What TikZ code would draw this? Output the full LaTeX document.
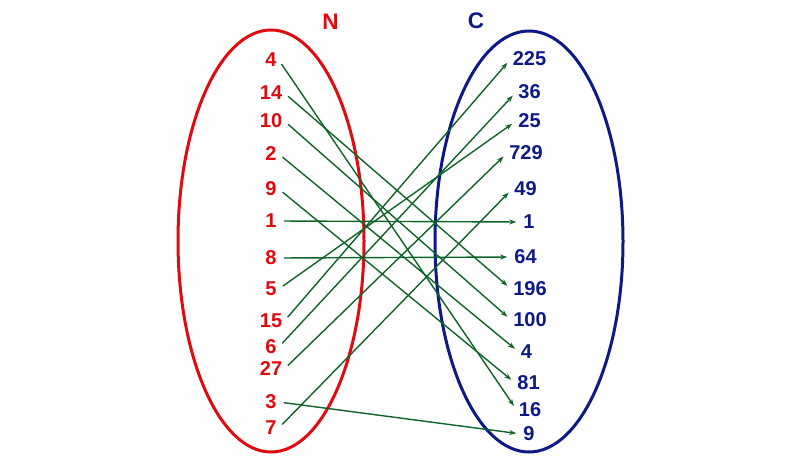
\documentclass[tikz,border=0pt]{standalone}
\usepackage{fontspec}
\setmainfont{Liberation Sans}
\usetikzlibrary{arrows.meta}
\definecolor{nred}{RGB}{225,10,15}
\definecolor{cblue}{RGB}{12,25,135}
\definecolor{lgreen}{RGB}{15,100,40}
\begin{document}
\begin{tikzpicture}[x=1pt,y=-1pt,
  lab/.style={font=\fontsize{20}{20}\selectfont\bfseries, inner sep=2pt},
  nlab/.style={lab, text=nred},
  clab/.style={lab, text=cblue},
  ttl/.style={font=\fontsize{22.5}{22.5}\selectfont\bfseries, inner sep=2pt},
  setn/.style={draw=nred, line width=3pt},
  setc/.style={draw=cblue, line width=3pt},
  map/.style={draw=lgreen, line width=1.4pt, -{Stealth[length=7pt,width=5pt]}, shorten <=5pt, shorten >=5pt}]
\useasboundingbox (0,0) rectangle (800,460);
\fill[white] (0,0) rectangle (800,460);
% sets
\draw[setn] (271,241) ellipse [x radius=93pt, y radius=211pt];
\draw[setc] (529,241.5) ellipse [x radius=94pt, y radius=210.5pt];
\node[ttl, text=nred] (tN) at (330.5,21.5) {N};
\node[ttl, text=cblue] (tC) at (476,21) {C};
% domain
\node[nlab] (n4)  at (271,60)  {4};
\node[nlab] (n14) at (271,93)  {14};
\node[nlab] (n10) at (271,121) {10};
\node[nlab] (n2)  at (271,154) {2};
\node[nlab] (n9)  at (271,189) {9};
\node[nlab] (n1)  at (271,221) {1};
\node[nlab] (n8)  at (271,258) {8};
\node[nlab] (n5)  at (271,289) {5};
\node[nlab] (n15) at (271,321) {15};
\node[nlab] (n6)  at (271,347) {6};
\node[nlab] (n27) at (271,369) {27};
\node[nlab] (n3)  at (271,402) {3};
\node[nlab] (n7)  at (271,428) {7};
% codomain
\node[clab] (c225) at (529.5,59)  {225};
\node[clab] (c36)  at (529.5,92)  {36};
\node[clab] (c25)  at (529.5,121) {25};
\node[clab] (c729) at (526,153)   {729};
\node[clab] (c49)  at (525.5,189) {49};
\node[clab] (c1)   at (529,222)   {1};
\node[clab] (c64)  at (525.5,257) {64};
\node[clab] (c196) at (530,289)   {196};
\node[clab] (c100) at (530,320)   {100};
\node[clab] (c4)   at (526.5,352) {4};
\node[clab] (c81)  at (528.5,383) {81};
\node[clab] (c16)  at (530,410)   {16};
\node[clab] (c9)   at (529,434)   {9};
% mappings
\draw[map] (n4.east)  -- (c16.west);
\draw[map] (n14.east) -- (c196.west);
\draw[map] (n10.east) -- (c100.west);
\draw[map] (n2.east)  -- (c4.west);
\draw[map] (n9.east)  -- (c81.west);
\draw[map] (n1.east)  -- (c1.west);
\draw[map] (n8.east)  -- (c64.west);
\draw[map] (n5.east)  -- (c25.west);
\draw[map] (n15.east) -- (c225.west);
\draw[map] (n6.east)  -- (c36.west);
\draw[map] (n27.east) -- (c729.west);
\draw[map] (n3.east)  -- (c9.west);
\draw[map] (n7.east)  -- (c49.west);
\end{tikzpicture}
\end{document}
